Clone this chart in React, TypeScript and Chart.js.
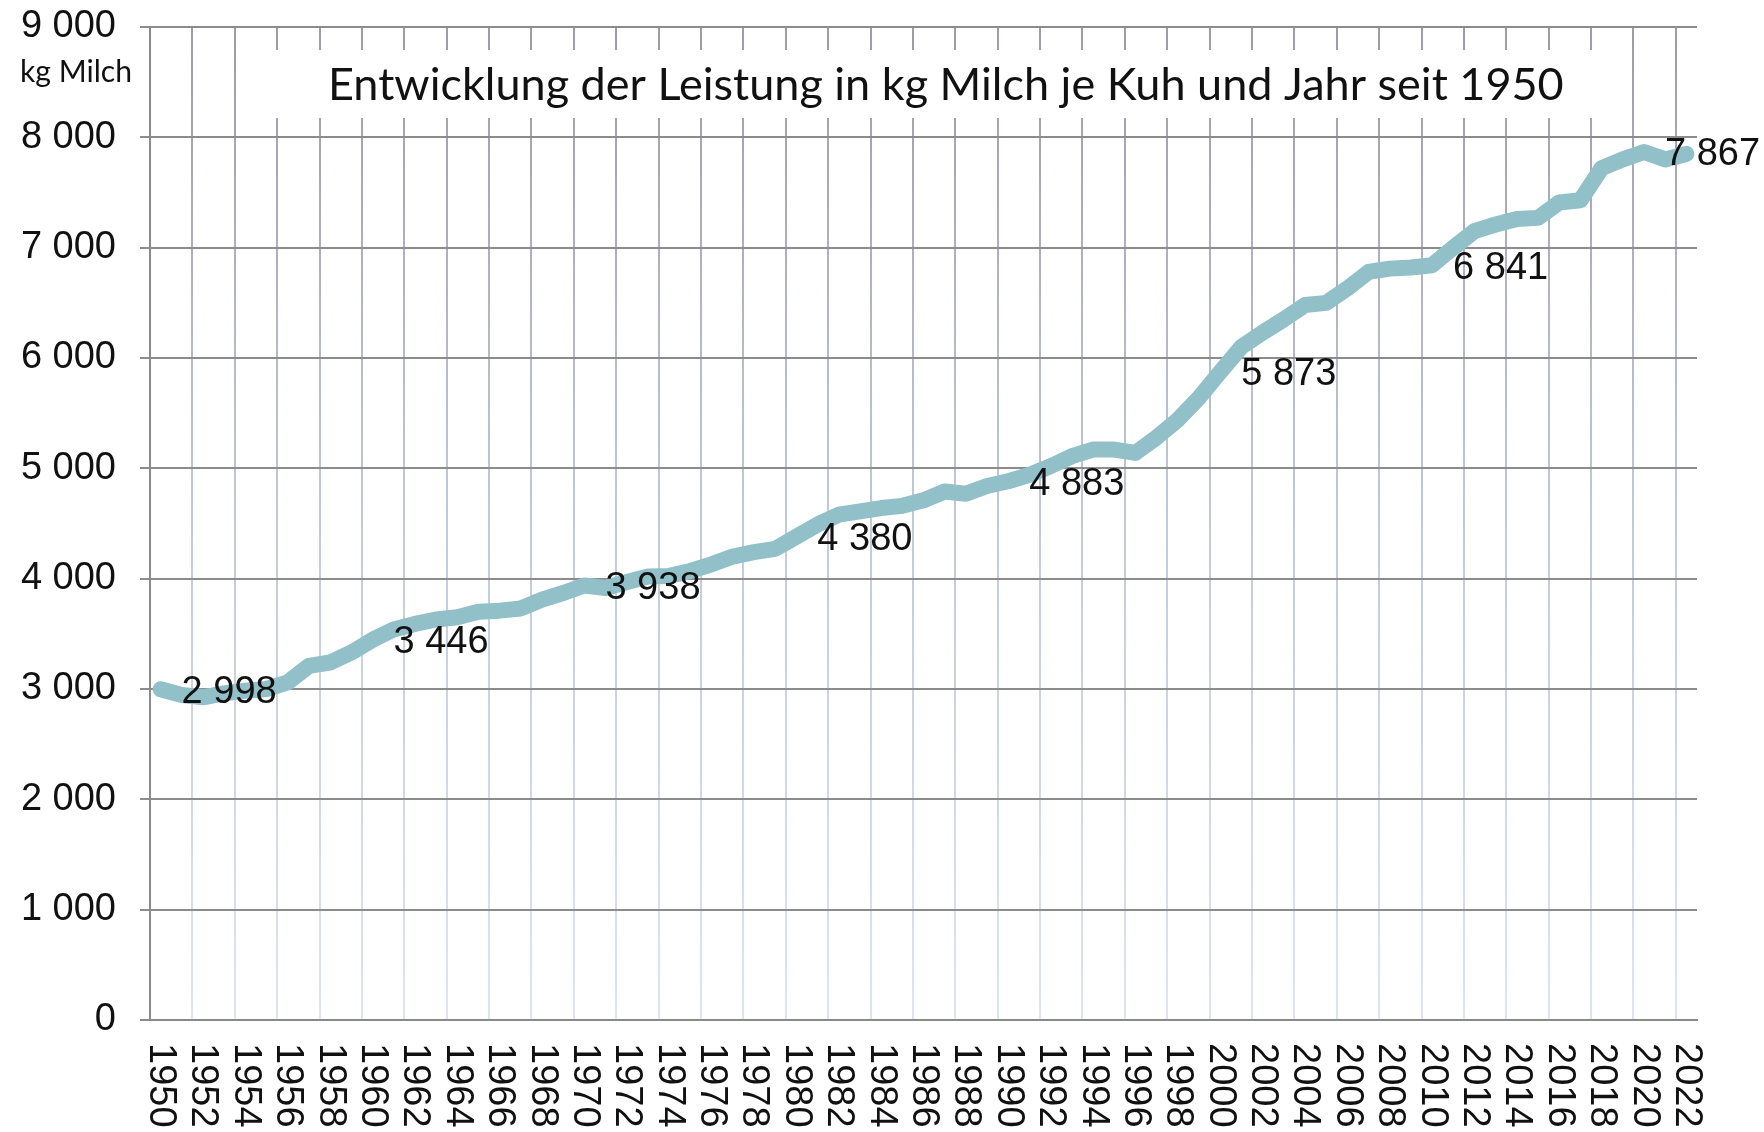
import React, { useEffect, useRef } from 'react';
import { Chart, registerables } from 'chart.js';

Chart.register(...registerables);

const YEARS = [
  '1950', '1951', '1952', '1953', '1954', '1955', '1956', '1957', '1958', '1959',
  '1960', '1961', '1962', '1963', '1964', '1965', '1966', '1967', '1968', '1969',
  '1970', '1971', '1972', '1973', '1974', '1975', '1976', '1977', '1978', '1979',
  '1980', '1981', '1982', '1983', '1984', '1985', '1986', '1987', '1988', '1989',
  '1990', '1991', '1992', '1993', '1994', '1995', '1996', '1997', '1998', '1999',
  '2000', '2001', '2002', '2003', '2004', '2005', '2006', '2007', '2008', '2009',
  '2010', '2011', '2012', '2013', '2014', '2015', '2016', '2017', '2018', '2019',
  '2020', '2021', '2022',
];

const MILK_PER_COW = [
  2998, 2945, 2925, 2960, 2985, 3000, 3060, 3210, 3240, 3330,
  3446, 3540, 3590, 3630, 3650, 3700, 3710, 3730, 3810, 3870,
  3938, 3915, 3970, 4020, 4025, 4070, 4130, 4200, 4240, 4270,
  4380, 4490, 4580, 4610, 4640, 4660, 4710, 4790, 4770, 4840,
  4883, 4940, 5020, 5110, 5170, 5170, 5140, 5280, 5440, 5640,
  5873, 6100, 6230, 6350, 6480, 6500, 6630, 6780, 6810, 6820,
  6841, 7000, 7150, 7210, 7260, 7270, 7410, 7430, 7720, 7800,
  7867, 7800, 7850,
];

const LABELED_YEARS = ['1950', '1960', '1970', '1980', '1990', '2000', '2010', '2020'];

const Y_MIN = 0;
const Y_MAX = 9000;
const Y_STEP = 1000;

const TITLE = 'Entwicklung der Leistung in kg Milch je Kuh und Jahr seit 1950';
const UNIT = 'kg Milch';

const NUM_FONT = '38px "Liberation Sans", Arial, sans-serif';
const LINE_COLOR = '#92c0c9';

const fmt = (v: number) => String(v).replace(/\B(?=(\d{3})+(?!\d))/g, ' ');

const fitFont = (ctx: CanvasRenderingContext2D, text: string, family: string, width: number) => {
  ctx.font = `100px ${family}`;
  const w = ctx.measureText(text).width;
  return (100 * width) / w;
};

const decorPlugin = {
  id: 'decor',
  beforeDatasetsDraw(chart: any) {
    const { ctx } = chart;
    ctx.save();
    // title box
    ctx.fillStyle = '#ffffff';
    ctx.fillRect(256, 50, 1358, 68);
    const fam = 'Lato, "Open Sans", sans-serif';
    const size = fitFont(ctx, TITLE, fam, 1236);
    ctx.font = `${size}px ${fam}`;
    ctx.fillStyle = '#111111';
    ctx.textAlign = 'left';
    ctx.textBaseline = 'middle';
    ctx.fillText(TITLE, 328, 85);
    ctx.restore();
  },
  afterDatasetsDraw(chart: any) {
    const { ctx } = chart;
    const meta = chart.getDatasetMeta(0);
    ctx.save();
    ctx.font = NUM_FONT;
    ctx.fillStyle = '#111111';
    ctx.textAlign = 'left';
    ctx.textBaseline = 'middle';
    LABELED_YEARS.forEach((yr) => {
      const i = YEARS.indexOf(yr);
      const pt = meta.data[i];
      if (!pt) return;
      ctx.fillText(fmt(MILK_PER_COW[i]), pt.x + 21, pt.y + 3);
    });
    ctx.restore();
  },
  afterDraw(chart: any) {
    const { ctx } = chart;
    const xs = chart.scales.x;
    ctx.save();
    // unit label
    const fam = 'Lato, "Open Sans", sans-serif';
    const size = fitFont(ctx, UNIT, fam, 112);
    ctx.font = `${size}px ${fam}`;
    ctx.fillStyle = '#111111';
    ctx.textAlign = 'left';
    ctx.textBaseline = 'middle';
    ctx.fillText(UNIT, 20, 72);
    // rotated x labels (reading top to bottom)
    ctx.font = NUM_FONT;
    ctx.textAlign = 'left';
    ctx.textBaseline = 'middle';
    YEARS.forEach((yr, i) => {
      if (i % 2 !== 0) return;
      const x = xs.getPixelForTick(i);
      ctx.save();
      ctx.translate(x, xs.top + 23);
      ctx.rotate(Math.PI / 2);
      ctx.fillText(yr, 0, 0);
      ctx.restore();
    });
    ctx.restore();
  },
};

export default function App() {
  const ref = useRef<HTMLCanvasElement | null>(null);

  useEffect(() => {
    if (!ref.current) return;
    const chart = new Chart(ref.current, {
      type: 'line',
      data: {
        labels: YEARS,
        datasets: [
          {
            data: MILK_PER_COW,
            borderColor: LINE_COLOR,
            backgroundColor: LINE_COLOR,
            borderWidth: 16,
            pointRadius: 0,
            tension: 0,
            borderJoinStyle: 'round',
            borderCapStyle: 'round',
            fill: false,
          },
        ],
      },
      options: {
        animation: false,
        responsive: true,
        maintainAspectRatio: false,
        layout: { padding: { top: 27, right: 67, bottom: 0, left: 0 } },
        plugins: {
          legend: { display: false },
          tooltip: { enabled: false },
          title: { display: false },
        },
        scales: {
          x: {
            type: 'category',
            offset: true,
            afterFit: (s: any) => {
              s.height = 112;
            },
            grid: {
              offset: true,
              drawTicks: false,
              lineWidth: 2,
              color: (c: any) => {
                if (c.type !== 'tick' || c.index % 2 !== 0) return 'rgba(0,0,0,0)';
                const area = c.chart.chartArea;
                if (!area) return '#bbbbc4';
                const g = c.chart.ctx.createLinearGradient(0, area.top, 0, area.bottom);
                g.addColorStop(0, '#9c9ca6');
                g.addColorStop(0.5, '#c4c8da');
                g.addColorStop(1, '#e0e3f2');
                return g;
              },
            },
            border: { display: true, color: '#8a8a8a', width: 2 },
            ticks: { display: false, autoSkip: false },
          },
          y: {
            min: Y_MIN,
            max: Y_MAX,
            afterFit: (s: any) => {
              s.width = 150;
              s.paddingTop = 0;
              s.paddingBottom = 0;
            },
            grid: {
              color: '#8c8c8c',
              lineWidth: 2,
              drawTicks: true,
              tickLength: 10,
            },
            border: { display: true, color: '#8a8a8a', width: 2 },
            ticks: {
              stepSize: Y_STEP,
              padding: 24,
              color: '#111111',
              font: { family: '"Liberation Sans", Arial, sans-serif', size: 38 },
              callback: (v: any) => fmt(Number(v)),
            },
          },
        },
      },
      plugins: [decorPlugin],
    });
    return () => chart.destroy();
  }, []);

  return (
    <div style={{ position: 'fixed', left: 0, top: 0, width: 1764, height: 1132, background: '#ffffff' }}>
      <canvas ref={ref} />
    </div>
  );
}
